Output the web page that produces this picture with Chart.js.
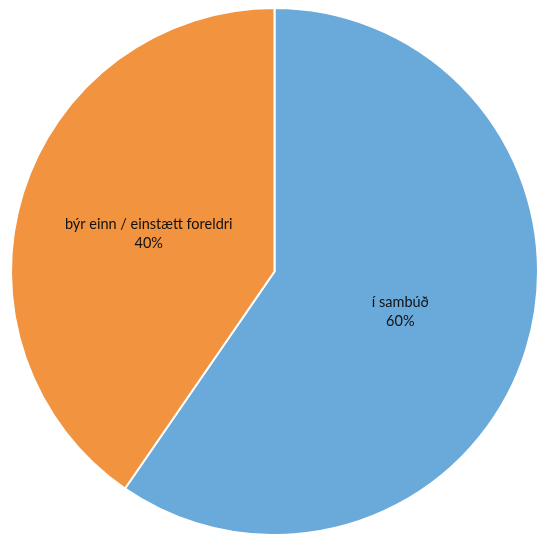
<!DOCTYPE html>
<html lang="is">
<head>
    <meta charset="UTF-8">
    <title>Sambúð</title>
    <script src="https://cdn.jsdelivr.net/npm/chart.js"></script>
    <style>
        html, body {
            margin: 0;
            padding: 0;
            background: #fff;
        }
        .chart-container {
            position: relative;
            width: 539px;
            height: 534px;
        }
    </style>
</head>
<body>
    <div class="chart-container">
        <canvas id="pieChart"></canvas>
    </div>
    <script>
        const categories = ["í sambúð", "býr einn / einstætt foreldri"];
        const shares = [59.6, 40.4];
        const sliceColors = ["#6AAADB", "#F29340"];

        // labels drawn inside each slice: category on top, rounded percent below
        const sliceLabels = {
            id: 'sliceLabels',
            afterDatasetsDraw(chart) {
                const ctx = chart.ctx;
                const meta = chart.getDatasetMeta(0);
                ctx.save();
                ctx.font = '14.5px Lato, sans-serif';
                ctx.fillStyle = '#111';
                ctx.textAlign = 'center';
                ctx.textBaseline = 'middle';
                meta.data.forEach((arc, i) => {
                    const p = arc.getCenterPoint();
                    ctx.fillText(categories[i], p.x, p.y - 8);
                    ctx.fillText(Math.round(shares[i]) + '%', p.x, p.y + 11);
                });
                ctx.restore();
            }
        };

        new Chart(document.getElementById('pieChart'), {
            type: 'pie',
            data: {
                labels: categories,
                datasets: [{
                    data: shares,
                    backgroundColor: sliceColors,
                    borderColor: '#ffffff',
                    borderWidth: 2,
                    radius: 263.5,
                    clip: false
                }]
            },
            options: {
                responsive: true,
                maintainAspectRatio: false,
                animation: false,
                layout: { padding: { top: 9, bottom: 0, left: 10, right: 0 } },
                plugins: {
                    legend: { display: false },
                    tooltip: { enabled: false }
                }
            },
            plugins: [sliceLabels]
        });
    </script>
</body>
</html>
